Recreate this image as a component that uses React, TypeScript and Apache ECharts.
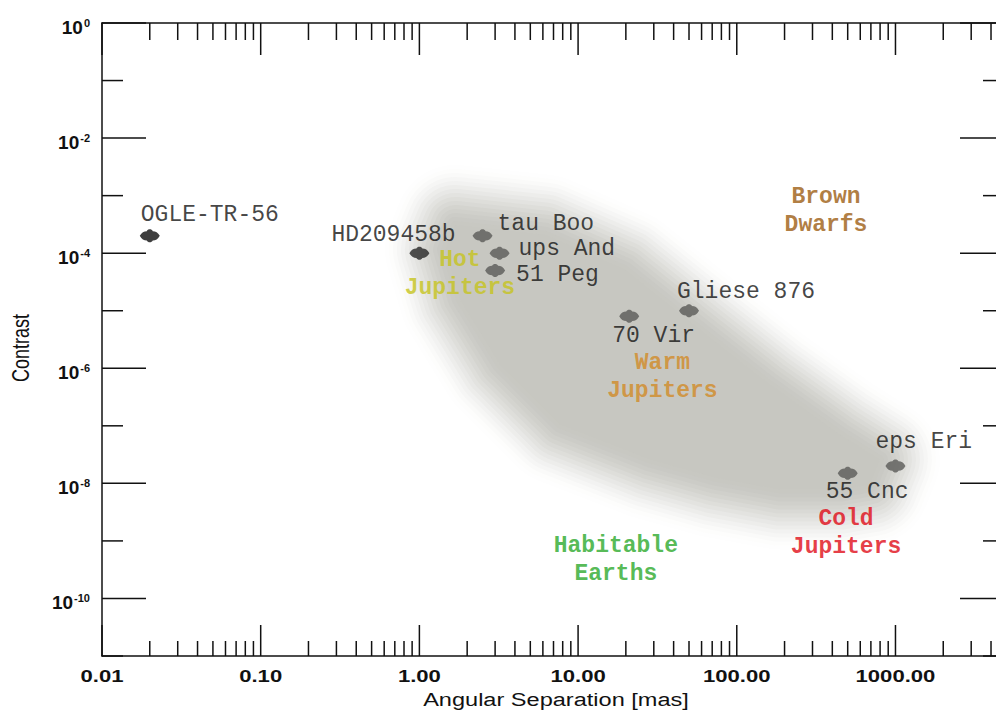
import React, { useEffect, useRef } from 'react';
import * as echarts from 'echarts';

// ---------- data ----------
const planetNames = ['OGLE-TR-56', 'HD209458b', 'tau Boo', 'ups And', '51 Peg', '70 Vir', 'Gliese 876', '55 Cnc', 'eps Eri'];
const planetSeparation = [0.02, 1.0, 2.5, 3.2, 3.0, 21, 50, 500, 1000];
const planetContrast = [2e-4, 1e-4, 2e-4, 1e-4, 5e-5, 8e-6, 1e-5, 1.5e-8, 2e-8];

const regionNames = ['Hot\nJupiters', 'Warm\nJupiters', 'Brown\nDwarfs', 'Cold\nJupiters', 'Habitable\nEarths'];
const regionSeparation = [1.8, 34, 365, 488, 17.3];
const regionContrast = [4.4e-5, 7e-7, 5.5e-4, 1.4e-9, 4.6e-10];

// outline of the grey "known planets" band (separation, contrast)
const bandSeparation = [1.68, 6.18, 19.8, 58.6, 162, 447, 798, 691, 447, 187, 72.9, 28.4, 7.69, 3.22, 1.8, 1.45];
const bandContrast = [3.1e-4, 2.1e-4, 5.2e-5, 4.7e-6, 5.2e-7, 7.1e-8, 2.6e-8, 9.6e-9, 7.8e-9, 7.8e-9, 1.26e-8, 2.6e-8, 1.05e-7, 1.16e-6, 1.56e-5, 1.15e-4];

const xMajorTicks = [0.01, 0.1, 1, 10, 100, 1000];
const xTickLabels = ['0.01', '0.10', '1.00', '10.00', '100.00', '1000.00'];
const xMinorFactors = [2, 3, 4, 5, 6, 7, 8, 9];
const yTickExponents = [0, -1, -2, -3, -4, -5, -6, -7, -8, -9, -10, -11];
const yLabelExponents = [0, -2, -4, -6, -8, -10];

const X_MIN = 0.01;
const X_MAX = 4300;
const Y_MIN = 1e-11;
const Y_MAX = 1;

// ---------- styles ----------
const planetColor: Record<string, string> = {
  'OGLE-TR-56': '#0e0e0e',
  HD209458b: '#262626',
};
const labelOffsets: Record<string, [number, number]> = {
  'OGLE-TR-56': [-9, -21],
  HD209458b: [-88, -18],
  'tau Boo': [15, -12],
  'ups And': [19, -4],
  '51 Peg': [21, 4],
  '70 Vir': [-17, 20],
  'Gliese 876': [-12, -19],
  '55 Cnc': [-22, 19],
  'eps Eri': [-20, -24],
};
const regionColors = ['#c6c41c', '#d28a26', '#9c5c10', '#e00a16', '#2aa82a'];
const MONO = '"Liberation Mono", "Courier New", monospace';
const SANS = '"Liberation Sans", Arial, Helvetica, sans-serif';
const AXIS = '#111111';
const markerPath =
  'path://M0,6 C2,3 4,2 7,2 C8,0 12,0 13,2 C16,2 18,3 20,6 C18,9 16,10 13,10 C12,12 8,12 7,10 C4,10 2,9 0,6 Z';

function buildOption() {
  const xTickData: number[][] = [];
  xMajorTicks.forEach((v, i) => {
    xTickData.push([v, Y_MIN, 1, i]);
    xMinorFactors.forEach((f) => {
      const m = v * f;
      if (m < X_MAX) xTickData.push([m, Y_MIN, 0, -1]);
    });
  });
  const yTickData = yTickExponents.map((e) => [X_MIN, Math.pow(10, e), yLabelExponents.includes(e) ? 1 : 0, e]);

  const N = 16;
  const target = [199, 199, 193];
  const layers = Array.from({ length: N }, (_, k) => {
    const f0 = (k + 1) / N;
    const f = f0 * f0 * (3 - 2 * f0);
    const c = target.map((t) => Math.round(255 + (t - 255) * f));
    return { w: (N - 1 - k) * 8, color: `rgb(${c[0]},${c[1]},${c[2]})` };
  });

  const hiddenAxis = {
    axisTick: { show: false },
    axisLabel: { show: false },
    splitLine: { show: false },
    axisLine: { show: true, onZero: false, lineStyle: { color: AXIS, width: 1.5 } },
  };

  return {
    animation: false,
    backgroundColor: '#ffffff',
    grid: { left: 102, top: 23, bottom: 57, right: 0, show: false },
    xAxis: [
      { type: 'log', logBase: 10, min: X_MIN, max: X_MAX, position: 'bottom', ...hiddenAxis },
      { type: 'log', logBase: 10, min: X_MIN, max: X_MAX, position: 'top', ...hiddenAxis },
    ],
    yAxis: { type: 'log', logBase: 10, min: Y_MIN, max: Y_MAX, position: 'left', ...hiddenAxis },
    graphic: [
      {
        type: 'text',
        x: 556,
        y: 700,
        scaleX: 1.24,
        style: {
          text: 'Angular Separation [mas]',
          font: `19px ${SANS}`,
          fill: '#111',
          align: 'center',
          verticalAlign: 'middle',
        },
      },
      {
        type: 'text',
        x: 21,
        y: 348,
        rotation: Math.PI / 2,
        scaleY: 1.3,
        style: {
          text: 'Contrast',
          font: `18px ${SANS}`,
          fill: '#111',
          align: 'center',
          verticalAlign: 'middle',
        },
      },
    ],
    series: [
      {
        type: 'custom',
        name: 'band',
        z: 1,
        silent: true,
        data: [[bandSeparation[0], bandContrast[0]]],
        renderItem: (_p: any, api: any) => {
          const pts = bandSeparation.map((x, i) => api.coord([x, bandContrast[i]]));
          return {
            type: 'group',
            children: layers.map((l) => ({
              type: 'polygon',
              shape: { points: pts },
              style: {
                fill: l.color,
                stroke: l.w > 0 ? l.color : null,
                lineWidth: l.w,
                lineJoin: 'round',
              },
            })),
          };
        },
      },
      {
        type: 'custom',
        name: 'xticks',
        z: 3,
        silent: true,
        encode: { x: 0, y: 1 },
        data: xTickData,
        renderItem: (_p: any, api: any) => {
          const v = api.value(0);
          const major = api.value(2) === 1;
          const li = api.value(3);
          const b = api.coord([v, Y_MIN]);
          const t = api.coord([v, Y_MAX]);
          const children: any[] = [
            {
              type: 'line',
              shape: { x1: b[0], y1: b[1], x2: b[0], y2: b[1] - (major ? 31 : 15) },
              style: { stroke: AXIS, lineWidth: 1.5 },
            },
            {
              type: 'line',
              shape: { x1: t[0], y1: t[1], x2: t[0], y2: t[1] + (major ? 32 : 17) },
              style: { stroke: AXIS, lineWidth: 1.5 },
            },
          ];
          if (major && li >= 0) {
            children.push({
              type: 'text',
              x: b[0],
              y: b[1] + 20,
              scaleX: 1.3,
              style: {
                text: xTickLabels[li],
                font: `bold 17px ${SANS}`,
                fill: '#111',
                align: 'center',
                verticalAlign: 'middle',
              },
            });
          }
          return { type: 'group', children };
        },
      },
      {
        type: 'custom',
        name: 'yticks',
        z: 3,
        silent: true,
        encode: { x: 0, y: 1 },
        data: yTickData,
        renderItem: (_p: any, api: any) => {
          const y = api.value(1);
          const major = api.value(2) === 1;
          const e = api.value(3);
          const l = api.coord([X_MIN, y]);
          const r = api.coord([X_MAX, y]);
          const children: any[] = [
            {
              type: 'line',
              shape: { x1: l[0], y1: l[1], x2: l[0] + (major ? 44 : 21), y2: l[1] },
              style: { stroke: AXIS, lineWidth: 1.5 },
            },
            {
              type: 'line',
              shape: { x1: r[0], y1: r[1], x2: r[0] - (major ? 36 : 13), y2: r[1] },
              style: { stroke: AXIS, lineWidth: 1.5 },
            },
          ];
          if (major) {
            children.push({
              type: 'text',
              x: 90,
              y: l[1] + 4,
              style: {
                text: `{b|10}{s|${e}}`,
                align: 'right',
                verticalAlign: 'middle',
                rich: {
                  b: { fontSize: 19, fontWeight: 'bold', fontFamily: SANS, fill: '#111', verticalAlign: 'bottom' },
                  s: { fontSize: 11, fontWeight: 'bold', fontFamily: SANS, fill: '#111', verticalAlign: 'top', padding: [0, 0, 0, 1] },
                },
              },
            });
          }
          return { type: 'group', children };
        },
      },
      {
        type: 'scatter',
        name: 'planets',
        z: 5,
        symbol: markerPath,
        symbolSize: [20, 13],
        data: planetNames.map((n, i) => ({
          name: n,
          value: [planetSeparation[i], planetContrast[i]],
          itemStyle: { color: planetColor[n] || '#5a5a58' },
          label: { offset: labelOffsets[n] },
        })),
        label: {
          show: true,
          position: 'inside',
          align: 'left',
          verticalAlign: 'middle',
          formatter: '{b}',
          fontFamily: MONO,
          fontSize: 23,
          lineHeight: 18,
          color: '#141414',
        },
      },
      {
        type: 'scatter',
        name: 'regions',
        z: 6,
        symbolSize: 1,
        itemStyle: { color: 'rgba(0,0,0,0)' },
        data: regionNames.map((n, i) => ({
          name: n,
          value: [regionSeparation[i], regionContrast[i]],
          label: { color: regionColors[i] },
        })),
        label: {
          show: true,
          position: 'inside',
          align: 'center',
          verticalAlign: 'middle',
          formatter: '{b}',
          fontFamily: MONO,
          fontWeight: 'bold',
          fontSize: 23,
          lineHeight: 28,
        },
      },
    ],
  };
}

export default function App() {
  const ref = useRef<HTMLDivElement>(null);
  useEffect(() => {
    if (!ref.current) return;
    const chart = echarts.init(ref.current, null, { renderer: 'svg' });
    chart.setOption(buildOption() as any);
    return () => chart.dispose();
  }, []);
  return (
    <div
      ref={ref}
      style={{ position: 'absolute', left: 0, top: 0, width: 996, height: 713, background: '#fff' }}
    />
  );
}
